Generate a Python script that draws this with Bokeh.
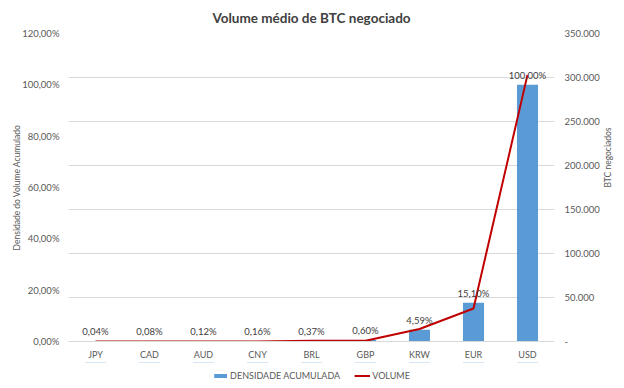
import math
from bokeh.plotting import figure
from bokeh.layouts import column
from bokeh.models import (FactorRange, Range1d, LinearAxis, FixedTicker, CustomJSTickFormatter,
                          ColumnDataSource, LabelSet, Legend, LegendItem, Grid)
from bokeh.core.properties import value
from bokeh.embed import file_html
from bokeh.resources import INLINE

categories = ["JPY", "CAD", "AUD", "CNY", "BRL", "GBP", "KRW", "EUR", "USD"]
densidade = [0.04, 0.08, 0.12, 0.16, 0.37, 0.60, 4.59, 15.10, 100.00]
volume = [140, 140, 140, 140, 750, 820, 14200, 37500, 303000]
pct_ticks = [0, 20, 40, 60, 80, 100, 120]
vol_ticks = [0, 50000, 100000, 150000, 200000, 250000, 300000, 350000]

labels = [("%.2f" % v).replace(".", ",") + "%" for v in densidade]

FONT = "Lato"
GRAY = "#595959"
BLUE = "#5b9bd5"
RED = "#c00000"

src = ColumnDataSource(dict(cat=categories, dens=densidade, vol=volume, lbl=labels))

p = figure(x_range=FactorRange(factors=categories, range_padding=0),
           y_range=Range1d(0, 120),
           frame_width=486, frame_height=308,
           min_border_left=68, min_border_right=70, min_border_top=0, min_border_bottom=20,
           output_backend="svg", toolbar_location=None,
           title="Volume médio de BTC negociado")
p.extra_y_ranges = {"vol": Range1d(0, 350000)}

p.title.align = "center"
p.title.text_font = FONT
p.title.text_font_size = "13.5px"
p.title.text_font_style = "bold"
p.title.text_color = "#404040"
p.title.standoff = 15

p.outline_line_color = None
p.xgrid.visible = False
p.ygrid.visible = False
p.background_fill_color = "white"
p.border_fill_color = "white"

grid = Grid(dimension=1, ticker=FixedTicker(ticks=vol_ticks), y_range_name="vol",
            grid_line_color="#d9d9d9", grid_line_width=1)
p.add_layout(grid)

ya = p.yaxis[0]
ya.ticker = FixedTicker(ticks=pct_ticks)
ya.formatter = CustomJSTickFormatter(code="return tick.toFixed(2).replace('.', ',') + '%';")
ya.axis_label = "Densidade do Volume Acumulado"

ra = LinearAxis(y_range_name="vol", ticker=FixedTicker(ticks=vol_ticks),
                formatter=CustomJSTickFormatter(code="""
if (tick == 0) { return '-'; }
return Math.round(tick).toString().replace(/\\B(?=(\\d{3})+(?!\\d))/g, '.');
"""),
                axis_label="BTC negociados", axis_label_orientation=math.pi / 2)
p.add_layout(ra, "right")

for ax in (ya, ra):
    ax.axis_line_color = None
    ax.major_tick_line_color = None
    ax.minor_tick_line_color = None
    ax.major_tick_out = 0
    ax.major_tick_in = 0
    ax.minor_tick_out = 0
    ax.major_label_text_font = FONT
    ax.major_label_text_font_size = "9.5px"
    ax.major_label_text_color = GRAY
    ax.axis_label_text_font = FONT
    ax.axis_label_text_font_size = "8.5px"
    ax.axis_label_text_font_style = "normal"
    ax.axis_label_text_color = GRAY
ya.major_label_standoff = 9
ya.axis_label_standoff = -3
ra.major_label_standoff = 10
ra.axis_label_standoff = 5

xa = p.xaxis[0]
xa.axis_line_color = "#d9d9d9"
xa.major_tick_line_color = None
xa.minor_tick_line_color = None
xa.major_tick_out = 0
xa.major_tick_in = 0
xa.major_label_text_font = FONT
xa.major_label_text_font_size = "9px"
xa.major_label_text_color = GRAY
xa.major_label_standoff = 7

p.vbar(x="cat", top="dens", width=0.39, source=src, fill_color=BLUE, line_color=None)
p.line(x="cat", y="vol", source=src, y_range_name="vol", line_color=RED, line_width=2)

lbls = LabelSet(x="cat", y="dens", text="lbl", source=src, y_offset=4,
                text_align="center", text_baseline="bottom",
                text_font=value(FONT), text_font_size="9.5px", text_color="#404040")
p.add_layout(lbls)

# legend strip below the chart (same series, drawn outside its visible range)
lf = figure(x_range=FactorRange(factors=categories, range_padding=0), y_range=Range1d(-2, -1),
            width=624, height=26, min_border=0,
            x_axis_location=None, y_axis_location=None,
            output_backend="svg", toolbar_location=None)
lf.outline_line_color = None
lf.grid.visible = False
lf.background_fill_color = "white"
lf.border_fill_color = "white"
lb = lf.vbar(x="cat", top="dens", width=0.39, source=src, fill_color=BLUE, line_color=None)
ll = lf.line(x="cat", y="vol", source=src, line_color=RED, line_width=2)

legend = Legend(items=[LegendItem(label="DENSIDADE ACUMULADA", renderers=[lb]),
                       LegendItem(label="VOLUME", renderers=[ll])],
                orientation="horizontal", location="center",
                border_line_color=None, background_fill_alpha=0,
                label_text_font=FONT, label_text_font_size="9px",
                label_text_color=GRAY, glyph_width=16, glyph_height=5,
                label_height=12, label_standoff=2, spacing=14,
                padding=2, margin=0)
lf.add_layout(legend, "center")

layout = column(p, lf, spacing=0)
open("out.html", "w").write(file_html(layout, INLINE))
